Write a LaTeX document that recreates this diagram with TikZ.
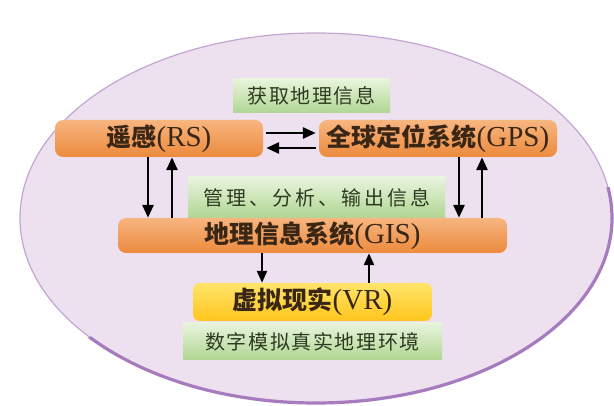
\documentclass[tikz,border=0pt]{standalone}
\usepackage{fontspec}
\setmainfont{Liberation Serif}
\newfontfamily\cjk{Noto Sans CJK SC}
\newfontfamily\cjkg{Noto Sans CJK SC}[LetterSpace=8]
\newfontfamily\cjkw{Noto Sans CJK SC}[LetterSpace=15]
\usetikzlibrary{arrows.meta,shapes.geometric}
\definecolor{ellfill}{HTML}{EDE1F0}
\definecolor{ellline}{HTML}{C3A5D2}
\definecolor{ellthick}{HTML}{A67CBE}
\definecolor{orT}{HTML}{F7B57F}
\definecolor{orM}{HTML}{F3A05E}
\definecolor{orB}{HTML}{EC8A3E}
\definecolor{yeT}{HTML}{FFE46A}
\definecolor{yeM}{HTML}{FFD633}
\definecolor{yeB}{HTML}{FFC51E}
\definecolor{grT}{HTML}{E8F4DD}
\definecolor{grB}{HTML}{B0D692}
\definecolor{txtO}{HTML}{3A2614}
\definecolor{txtG}{HTML}{2E3A20}
\newcommand\mainlab[2]{{\cjk\bfseries\fontsize{25}{25}\selectfont #1}{\fontsize{29}{29}\selectfont(#2)}}
\tikzset{
  obox/.style={rounded corners=8pt, inner sep=0pt, text=txtO, top color=orT, middle color=orM, bottom color=orB, draw=none},
  ybox/.style={rounded corners=7pt, inner sep=0pt, text=txtO, top color=yeT, middle color=yeM, bottom color=yeB, draw=none},
  gbox/.style={inner sep=0pt, text=txtG, top color=grT, bottom color=grB, draw=none, font=\cjkg\fontsize{20}{20}\selectfont},
  arr/.style={line width=2.8pt, -{Triangle[length=13pt,width=11pt]}},
  sarr/.style={line width=2.5pt, -{Triangle[length=12pt,width=10pt]}}
}
\begin{document}
\begin{tikzpicture}[x=1pt,y=-1pt]
\useasboundingbox (0,0) rectangle (614,406);
\fill[white] (0,0) rectangle (614,406);
% ellipse background
\draw[fill=ellfill, draw=ellline, line width=1.2pt] (316,218) ellipse [x radius=296, y radius=185];
\begin{scope}
\clip (316,218) -- (620,186) -- (620,410) -- (0,410) -- (0,384) -- cycle;
\draw[ellthick, line width=3.2pt] (316,218) ellipse [x radius=296, y radius=185];
\end{scope}
% boxes
\node[gbox, minimum width=157pt, minimum height=34pt] (get) at (311.5,96) {获取地理信息};
\node[obox, minimum width=208pt, minimum height=37pt] (rs) at (159,138.5) {\mainlab{遥感}{RS}};
\node[obox, minimum width=238pt, minimum height=37pt] (gps) at (438,138.5) {\mainlab{全球定位系统}{GPS}};
\node[gbox, font=\cjkw\fontsize{20}{20}\selectfont, minimum width=257pt, minimum height=41pt] (mgmt) at (316.5,197.5) {管理、分析、输出信息};
\node[obox, minimum width=389pt, minimum height=35pt] (gis) at (312.5,235.5) {\mainlab{地理信息系统}{GIS}};
\node[ybox, minimum width=239pt, minimum height=38pt] (vr) at (312.5,302) {\mainlab{虚拟现实}{VR}};
\node[gbox, minimum width=259pt, minimum height=37pt] (dig) at (312.5,341.5) {数字模拟真实地理环境};
% arrows
\draw[arr, shorten <=3pt, shorten >=3pt] (rs.east |- 0,133) -- (gps.west |- 0,133);
\draw[arr, shorten <=3pt, shorten >=3pt] (gps.west |- 0,148) -- (rs.east |- 0,148);
\draw[arr] (148,0 |- rs.south) -- (148,0 |- gis.north);
\draw[arr] (172,0 |- gis.north) -- (172,0 |- rs.south);
\draw[arr] (459,0 |- gps.south) -- (459,0 |- gis.north);
\draw[arr] (482,0 |- gis.north) -- (482,0 |- gps.south);
\draw[sarr] (262,0 |- gis.south) -- (262,0 |- vr.north);
\draw[sarr] (369,0 |- vr.north) -- (369,0 |- gis.south);
\end{tikzpicture}
\end{document}
